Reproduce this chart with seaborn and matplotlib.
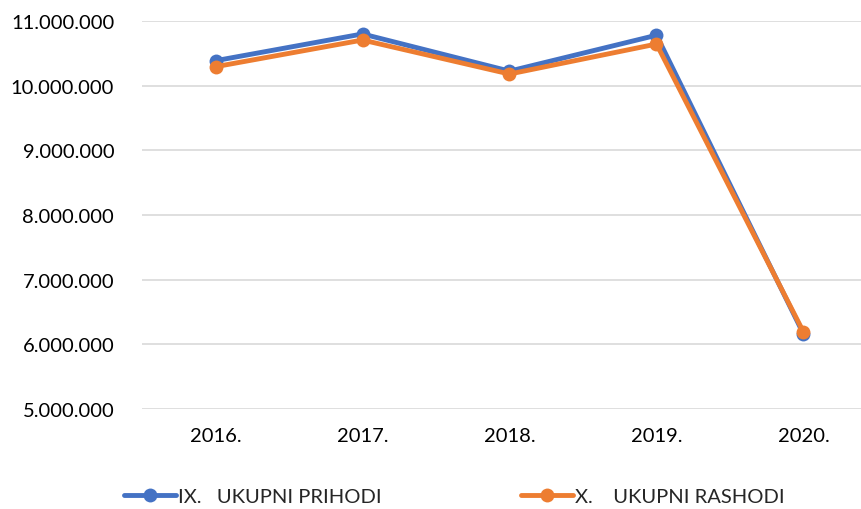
import matplotlib
matplotlib.use("Agg")
import matplotlib.pyplot as plt
import seaborn as sns
import pandas as pd
from matplotlib.ticker import FuncFormatter, FixedLocator
from matplotlib.lines import Line2D

years = ["2016.", "2017.", "2018.", "2019.", "2020."]
prihodi = [10386000, 10800000, 10225000, 10780000, 6160000]
rashodi = [10293000, 10706000, 10180000, 10644000, 6190000]
series_names = ["IX.   UKUPNI PRIHODI", "X.    UKUPNI RASHODI"]
colors = ["#4472C4", "#ED7D31"]

df = pd.DataFrame({
    "year": years * 2,
    "value": prihodi + rashodi,
    "series": [series_names[0]] * len(years) + [series_names[1]] * len(years),
})

sns.set_theme(style="white")
plt.rcParams["font.family"] = ["Lato", "DejaVu Sans"]

fig = plt.figure(figsize=(8.62, 5.10), dpi=100)
ax = fig.add_axes([142 / 862, 1 - 410 / 510, (877 - 142) / 862, (410 - 22) / 510])

sns.lineplot(data=df, x="year", y="value", hue="series", palette=colors,
             marker="o", markersize=10, markeredgewidth=0, linewidth=3.5,
             ax=ax, legend=False, sort=False)

ax.set_xlim(-0.5, 4.5)
ax.set_ylim(5000000, 11000000)
ax.yaxis.set_major_locator(FixedLocator([5e6, 6e6, 7e6, 8e6, 9e6, 10e6, 11e6]))
ax.yaxis.set_major_formatter(FuncFormatter(lambda v, p: f"{int(round(v)):,}".replace(",", ".")))
ax.grid(axis="y", color="#D9D9D9", linewidth=1.2)
ax.grid(axis="x", visible=False)
for s in ax.spines.values():
    s.set_visible(False)
ax.set_xlabel("")
ax.set_ylabel("")
ax.tick_params(axis="both", length=0, labelsize=14.5, colors="black")
ax.tick_params(axis="y", pad=20)
ax.tick_params(axis="x", pad=13)

handles = [Line2D([0], [0], color=c, lw=3.5, marker="o", markersize=10, markeredgewidth=0)
           for c in colors]
fig.legend(handles, series_names, loc="center", bbox_to_anchor=(0.527, 1 - 497 / 510),
           ncol=2, frameon=False, fontsize=14.5, handlelength=2.6, handletextpad=0.1,
           columnspacing=6.9)

fig.savefig("out.png", dpi=100)
